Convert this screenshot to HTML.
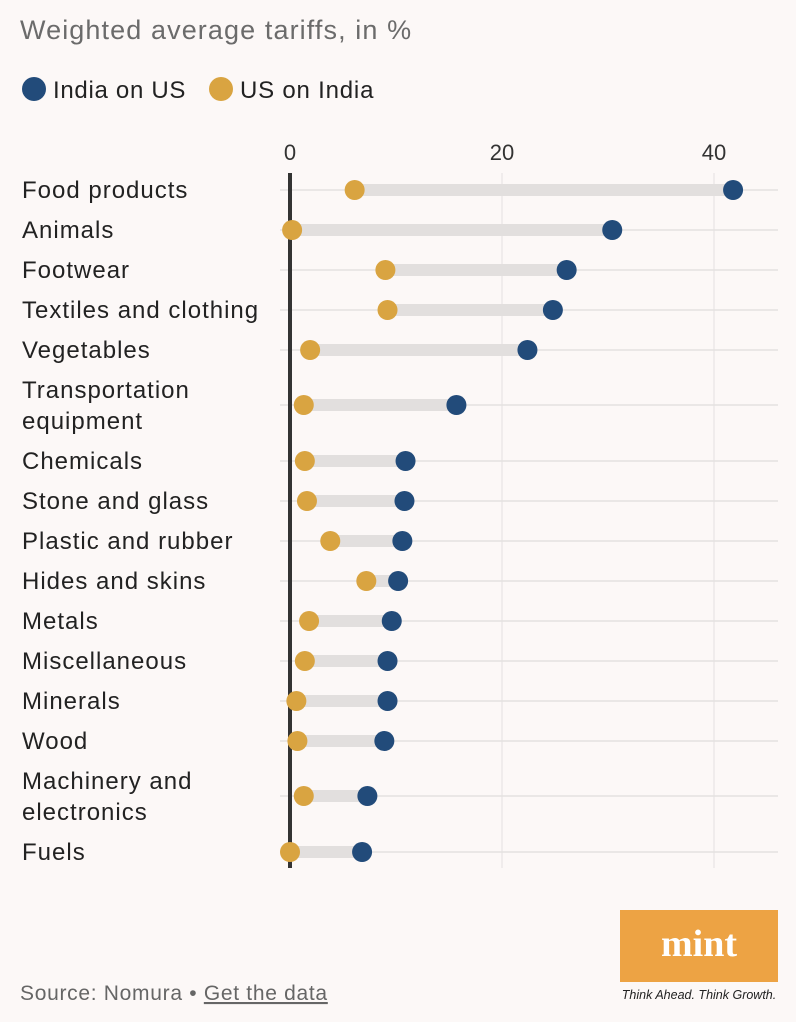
<!DOCTYPE html>
<html><head><meta charset="utf-8"><style>
body{margin:0;background:#fcf8f7;font-family:"Liberation Sans",sans-serif;}
#wrap{position:relative;width:796px;height:1022px;overflow:hidden}
</style></head><body>
<div id="wrap">
<svg id="svg" width="796" height="1022">
<text x="20" y="39" font-size="27" letter-spacing="1.1" fill="#6b6b6b">Weighted average tariffs, in %</text>
<circle cx="34" cy="89" r="12" fill="#224b7a"/>
<text x="53" y="98" font-size="24" letter-spacing="0.7" fill="#222">India on US</text>
<circle cx="221" cy="89" r="12" fill="#d9a441"/>
<text x="240" y="98" font-size="24" letter-spacing="0.8" fill="#222">US on India</text>
<g id="g"></g>
<rect x="620" y="910" width="158" height="72" fill="#eda344"/>
<text x="699" y="956" font-size="38" font-weight="bold" font-family="Liberation Serif,serif" fill="#fff" text-anchor="middle">mint</text>
<text x="699" y="999" font-size="12.5" font-style="italic" fill="#222" text-anchor="middle">Think Ahead. Think Growth.</text>
<text x="20" y="1000" font-size="21" letter-spacing="0.7" fill="#666">Source: Nomura • <tspan text-decoration="underline">Get the data</tspan></text>
</svg>
</div>
<script>
const categories=[["Food products"],["Animals"],["Footwear"],["Textiles and clothing"],["Vegetables"],["Transportation","equipment"],["Chemicals"],["Stone and glass"],["Plastic and rubber"],["Hides and skins"],["Metals"],["Miscellaneous"],["Minerals"],["Wood"],["Machinery and","electronics"],["Fuels"]];
const indiaOnUS=[41.8,30.4,26.1,24.8,22.4,15.7,10.9,10.8,10.6,10.2,9.6,9.2,9.2,8.9,7.3,6.8];
const usOnIndia=[6.1,0.2,9.0,9.2,1.9,1.3,1.4,1.6,3.8,7.2,1.8,1.4,0.6,0.7,1.3,0.0];
const ticks=[0,20,40];
const NS="http://www.w3.org/2000/svg";
const g=document.getElementById('g');
const x=v=>290+v*10.6;
function mk(t,a){const e=document.createElementNS(NS,t);for(const k in a)e.setAttribute(k,a[k]);g.appendChild(e);return e;}
const ys=[];let y=190;
categories.forEach((c,i)=>{if(c.length>1){y+=15;ys.push(y);y+=56;}else{ys.push(y);y+=40;}});
ticks.forEach(t=>{
 if(t>0){const l=mk('line',{x1:x(t),x2:x(t),y1:173,y2:868,stroke:'#e4e1e0','stroke-width':1});
 
 }
 const tx=mk('text',{x:x(t),y:160,'font-size':22,fill:'#333','text-anchor':'middle'});tx.textContent=t;
 
 
});
categories.forEach((c,i)=>{
 const yy=ys[i];
 const gl=mk('line',{x1:280,x2:778,y1:yy,y2:yy,stroke:'#e4e1e0','stroke-width':1.5});
 
 
 const t=mk('text',{x:22,y:c.length>1?yy-7:yy+8,'font-size':24,'letter-spacing':1,fill:'#222'});
 
 
 c.forEach((s,j)=>{const ts=document.createElementNS(NS,'tspan');ts.setAttribute('x',22);ts.setAttribute('dy',j?31:0);ts.textContent=s;t.appendChild(ts);});
 const a=Math.min(indiaOnUS[i],usOnIndia[i]),b=Math.max(indiaOnUS[i],usOnIndia[i]);
 const r=mk('rect',{x:x(a),y:yy-6,width:x(b)-x(a),height:12,fill:'#e2dfde'});
 
 
});
const z=mk('rect',{x:288,y:173,width:4,height:695,fill:'#333'});


categories.forEach((c,i)=>{
 const p1=mk('circle',{cx:x(usOnIndia[i]),cy:ys[i],r:10,fill:'#d9a441'});
 
 
 const p2=mk('circle',{cx:x(indiaOnUS[i]),cy:ys[i],r:10,fill:'#224b7a'});
 
 
});
</script>
</body></html>
